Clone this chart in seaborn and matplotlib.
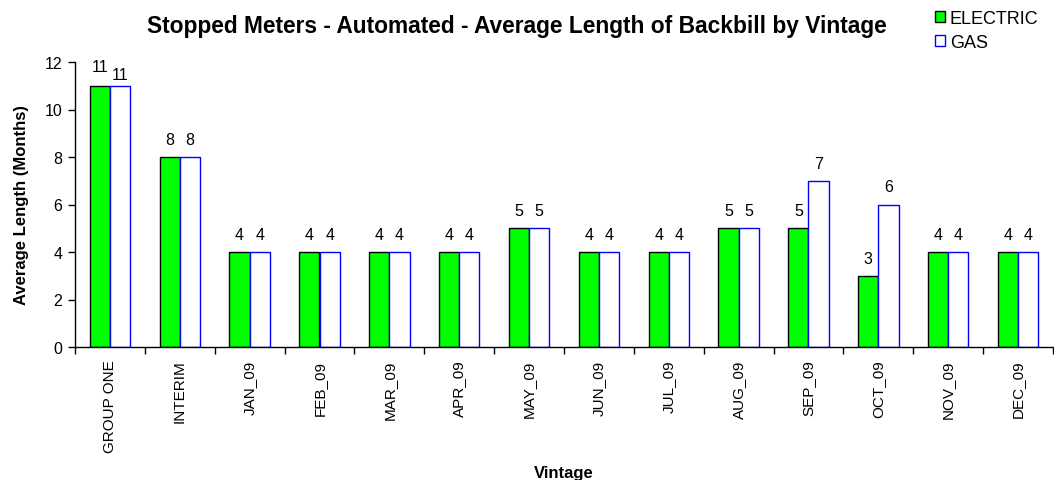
import matplotlib
matplotlib.use("Agg")
import matplotlib.pyplot as plt
import seaborn as sns
import pandas as pd
import numpy as np
from matplotlib.patches import Patch

categories = ["GROUP ONE", "INTERIM", "JAN_09", "FEB_09", "MAR_09", "APR_09", "MAY_09",
              "JUN_09", "JUL_09", "AUG_09", "SEP_09", "OCT_09", "NOV_09", "DEC_09"]
electric = [11, 8, 4, 4, 4, 4, 5, 4, 4, 5, 5, 3, 4, 4]
gas = [11, 8, 4, 4, 4, 4, 5, 4, 4, 5, 7, 6, 4, 4]
series = ["ELECTRIC", "GAS"]

df = pd.DataFrame({
    "Vintage": categories * 2,
    "Value": electric + gas,
    "Series": [series[0]] * len(categories) + [series[1]] * len(categories),
})

sns.set_style("white")
plt.rcParams["font.family"] = ["Liberation Sans", "DejaVu Sans"]
plt.rcParams["text.color"] = "black"
plt.rcParams["axes.labelcolor"] = "black"
plt.rcParams["xtick.color"] = "black"
plt.rcParams["ytick.color"] = "black"

fig = plt.figure(figsize=(10.54, 4.81), dpi=100)
ax = fig.add_axes([75 / 1054, 1 - 348 / 481, (1053 - 75) / 1054, (348 - 63) / 481])

sns.barplot(data=df, x="Vintage", y="Value", hue="Series", order=categories,
            hue_order=series, palette={"ELECTRIC": "#00FF00", "GAS": "#FFFFFF"},
            width=0.58, ax=ax, legend=False, saturation=1)

n = len(categories)
for i, p in enumerate(ax.patches[: 2 * n]):
    p.set_edgecolor("black" if i < n else "#0000FF")
    p.set_linewidth(1.0)

for i, p in enumerate(ax.patches[: 2 * n]):
    h = p.get_height()
    cx = p.get_x() + p.get_width() / 2
    off = 0.74
    if i == 0:
        off = 0.82
    elif i == n:
        off = 0.48
    ax.text(cx, h + off, f"{int(h)}", ha="center", va="center", fontsize=11.5)

ax.set_xlim(-0.5, n - 0.5)
ax.set_ylim(0, 12)
ax.set_yticks(range(0, 13, 2))
ax.set_xticks(np.arange(n))
ax.set_xticklabels(categories, rotation=90, fontsize=11)
ax.tick_params(axis="x", length=0, pad=9)
ax.set_xticks(np.arange(-0.5, n, 1), minor=True)
ax.tick_params(axis="x", which="minor", direction="out", length=5, width=1, color="black", bottom=True)
ax.tick_params(axis="y", direction="out", length=5, width=1, color="black", labelsize=11.5, left=True, pad=4)

for s in ["top", "right"]:
    ax.spines[s].set_visible(False)
for s in ["left", "bottom"]:
    ax.spines[s].set_color("black")
    ax.spines[s].set_linewidth(1)

ax.set_xlabel("Vintage", fontsize=12, fontweight="bold")
ax.xaxis.set_label_coords(0.5, -0.415)
ax.set_ylabel("Average Length (Months)", fontsize=12, fontweight="bold")
ax.yaxis.set_label_coords(-0.047, 0.5)

fig.text(517 / 1054, 1 - 27 / 481, "Stopped Meters - Automated - Average Length of Backbill by Vintage",
         ha="center", va="center", fontsize=16.4, fontweight="bold")

handles = [Patch(facecolor="#00FF00", edgecolor="black"), Patch(facecolor="white", edgecolor="#0000FF")]
fig.legend(handles, series, loc="upper left", bbox_to_anchor=(922 / 1054, 1 + 2 / 481),
           frameon=False, fontsize=13, handlelength=0.55, handleheight=0.55,
           handletextpad=0.3, labelspacing=0.38, borderpad=0.2)

fig.savefig("out.png", dpi=100)
